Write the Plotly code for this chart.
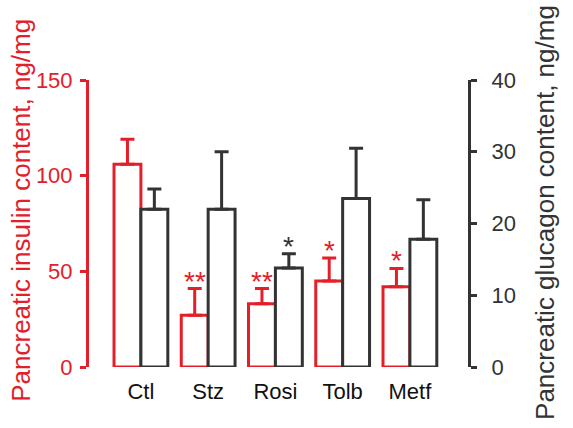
import plotly.graph_objects as go

groups = ["Ctl", "Stz", "Rosi", "Tolb", "Metf"]
insulin = [106, 27, 33, 45, 42]
insulin_err = [13, 14, 8, 12, 9.5]
glucagon = [22, 22, 13.8, 23.5, 17.8]
glucagon_err = [2.8, 8, 2, 7, 5.5]
insulin_sig = ["", "**", "**", "*", "*"]
glucagon_sig = ["", "", "*", "", ""]
insulin_title = "Pancreatic insulin content, ng/mg"
glucagon_title = "Pancreatic glucagon content, ng/mg"

RED = "#e3202a"
DARK = "#333333"
FONT = "Arial, Liberation Sans, sans-serif"

fig = go.Figure()
fig.add_trace(go.Bar(
    x=groups, y=insulin, yaxis="y", width=0.4, offset=-0.4,
    marker=dict(color="white", line=dict(color=RED, width=3)),
    error_y=dict(type="data", symmetric=False, array=insulin_err,
                 arrayminus=[0] * len(groups), thickness=3, width=7, color=RED),
    showlegend=False,
))
fig.add_trace(go.Bar(
    x=groups, y=glucagon, yaxis="y2", width=0.4, offset=0,
    marker=dict(color="white", line=dict(color=DARK, width=3)),
    error_y=dict(type="data", symmetric=False, array=glucagon_err,
                 arrayminus=[0] * len(groups), thickness=3, width=7, color=DARK),
    showlegend=False,
))

annotations = []
for g, v, e, s in zip(groups, insulin, insulin_err, insulin_sig):
    if s:
        annotations.append(dict(x=g, y=v + e, xref="x", yref="y", text=s, showarrow=False,
                                xshift=-13.5, yanchor="bottom", yshift=-10,
                                font=dict(family=FONT, size=28, color=RED)))
for g, v, e, s in zip(groups, glucagon, glucagon_err, glucagon_sig):
    if s:
        annotations.append(dict(x=g, y=v + e, xref="x", yref="y2", text=s, showarrow=False,
                                xshift=13.5, yanchor="bottom", yshift=-10,
                                font=dict(family=FONT, size=28, color=DARK)))

# axis titles
annotations.append(dict(text=insulin_title, xref="paper", yref="paper", x=-0.180, y=0.547,
                        xanchor="center", yanchor="middle", textangle=-90, showarrow=False,
                        font=dict(family=FONT, size=26, color=RED)))
annotations.append(dict(text=glucagon_title, xref="paper", yref="paper", x=1.203, y=0.540,
                        xanchor="center", yanchor="middle", textangle=-90, showarrow=False,
                        font=dict(family=FONT, size=26, color=DARK)))

fig.update_layout(
    width=573, height=428,
    margin=dict(l=89, r=105, t=80, b=61, autoexpand=False),
    paper_bgcolor="white", plot_bgcolor="white",
    font=dict(family=FONT),
    barmode="overlay",
    annotations=annotations,
    xaxis=dict(
        range=[-0.772, 4.864], showline=False, showgrid=False, zeroline=False,
        ticks="", ticklabelstandoff=9,
        tickfont=dict(family=FONT, size=22, color="#111111"),
    ),
    yaxis=dict(
        range=[0, 150], tickvals=[0, 50, 100, 150],
        showline=True, linecolor=RED, linewidth=3,
        ticks="outside", ticklen=6, tickwidth=3, tickcolor=RED,
        showgrid=False, zeroline=False, ticklabelstandoff=3,
        tickfont=dict(family=FONT, size=22, color=RED),
    ),
    yaxis2=dict(
        range=[0, 40], tickvals=[0, 10, 20, 30, 40], overlaying="y", side="right",
        showline=True, linecolor=DARK, linewidth=3,
        ticks="outside", ticklen=6, tickwidth=3, tickcolor=DARK,
        showgrid=False, zeroline=False, ticklabelstandoff=10,
        tickfont=dict(family=FONT, size=22, color=DARK),
    ),
)

fig.write_html("out.html", config={"displayModeBar": False},
               post_script="document.body.style.margin='0';")
